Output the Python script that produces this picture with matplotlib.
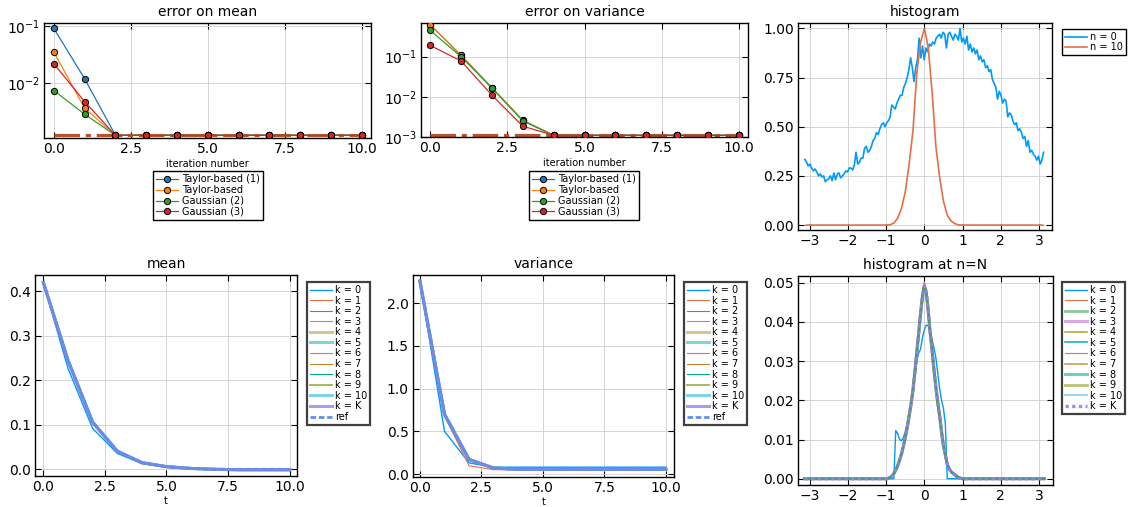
import numpy as np
import matplotlib.pyplot as plt
from matplotlib.ticker import LogLocator, NullLocator, LogFormatterMathtext

plt.rcParams['font.family'] = ['DejaVu Sans']
plt.rcParams['mathtext.fontset'] = 'dejavusans'

# ---- data ----
iters = np.arange(11)

err_mean_taylor1 = [0.090, 0.012] + [1.25e-3] * 9
err_mean_taylor = [0.035, 0.0037] + [1.25e-3] * 9
err_mean_gauss2 = [0.0075, 0.0029] + [1.25e-3] * 9
err_mean_gauss3 = [0.022, 0.0048] + [1.25e-3] * 9
err_mean_tol = 1.25e-3

err_var_taylor1 = [0.62, 0.108, 0.0168, 0.0026] + [1.1e-3] * 7
err_var_taylor = [0.62, 0.108, 0.0168, 0.0026] + [1.1e-3] * 7
err_var_gauss2 = [0.45, 0.100, 0.0165, 0.0025] + [1.1e-3] * 7
err_var_gauss3 = [0.19, 0.078, 0.0110, 0.00186] + [1.1e-3] * 7
err_var_tol = 1.1e-3

method_labels = ['Taylor-based (1)', 'Taylor-based', 'Gaussian (2)', 'Gaussian (3)']
iter_ticks = [0, 2.5, 5, 7.5, 10]
iter_ticklabels = ['0.0', '2.5', '5.0', '7.5', '10.0']

# histogram of the initial state (n = 0), read point by point
hist_n0 = [0.334, 0.32, 0.30, 0.31, 0.29, 0.275, 0.285, 0.27, 0.25, 0.26,
           0.245, 0.25, 0.22, 0.23, 0.235, 0.25, 0.225, 0.265, 0.23, 0.26,
           0.265, 0.24, 0.25, 0.26, 0.275, 0.27, 0.29, 0.29, 0.28, 0.305,
           0.37, 0.31, 0.32, 0.34, 0.34, 0.39, 0.40, 0.37, 0.38, 0.40,
           0.43, 0.44, 0.47, 0.46, 0.49, 0.51, 0.52, 0.50, 0.52, 0.53,
           0.55, 0.61, 0.60, 0.59, 0.62, 0.64, 0.66, 0.66, 0.70, 0.72,
           0.75, 0.79, 0.85, 0.80, 0.73, 0.80, 0.84, 0.95, 0.85,
           0.91, 0.84, 0.90, 0.88, 0.92, 0.91, 0.93, 0.92, 0.95, 0.96,
           0.97, 0.95, 0.98, 0.97, 0.90, 0.97, 0.98, 0.96, 0.94, 0.97,
           0.96, 0.94, 1.00, 0.93, 0.95, 0.92, 0.96, 0.89, 0.92, 0.88,
           0.90, 0.87, 0.89, 0.84, 0.86, 0.83, 0.84, 0.80, 0.81, 0.78,
           0.79, 0.74, 0.72, 0.70, 0.64, 0.68, 0.66, 0.62, 0.64, 0.63,
           0.55, 0.57, 0.56, 0.53, 0.51, 0.52, 0.48, 0.49, 0.47, 0.44,
           0.45, 0.40, 0.43, 0.37, 0.38, 0.36, 0.35, 0.33, 0.35, 0.31,
           0.33, 0.37]
x_n0 = np.linspace(-3.13, 3.12, len(hist_n0))

# histogram at n = 10 (bins of 0.1 from -3.1 to 3.1)
hist_n10 = ([0.0] * 21 +
            [0.0, 0.002, 0.01, 0.035, 0.085, 0.17, 0.31, 0.48, 0.77, 0.93,
             1.00, 0.90, 0.68, 0.40, 0.24, 0.12, 0.05, 0.02, 0.007, 0.001, 0.0] +
            [0.0] * 21)
x_n10 = np.linspace(-3.1, 3.1, len(hist_n10))

# mean / variance over time for the different k
t = np.arange(11)
mean_k0 = [0.42, 0.227, 0.092, 0.036, 0.013, 0.005, 0.001, 0.0, -0.001, -0.001, -0.001]
mean_k1 = [0.42, 0.243, 0.103, 0.039, 0.014, 0.006, 0.002, 0.0, -0.001, -0.001, -0.001]
mean_k = [0.42, 0.245, 0.106, 0.041, 0.015, 0.006, 0.002, 0.0, -0.001, -0.001, -0.001]
mean_ref = [0.42, 0.245, 0.106, 0.041, 0.015, 0.006, 0.002, 0.0, 0.0, 0.0, 0.0]

var_k0 = [2.26, 0.50, 0.13, 0.08, 0.08, 0.08, 0.08, 0.08, 0.08, 0.08, 0.08]
var_k1 = [2.26, 0.68, 0.097, 0.05, 0.052, 0.052, 0.052, 0.052, 0.052, 0.052, 0.052]
var_k = [2.26, 0.70, 0.17, 0.069, 0.055, 0.055, 0.055, 0.055, 0.055, 0.055, 0.055]
var_ref = [2.26, 0.70, 0.17, 0.069, 0.055, 0.055, 0.055, 0.055, 0.055, 0.055, 0.055]

# final histogram (bins of 0.05 between -1 and 1, zero outside)
hN_k0 = [0, 0, 0, 0, 0, 0.0123, 0.0115, 0.0100, 0.0097, 0.0105,
         0.0120, 0.0140, 0.0165, 0.0190, 0.0215, 0.0255, 0.0300, 0.0320, 0.0330, 0.0360,
         0.0380, 0.0392, 0.0390, 0.0378, 0.0355, 0.0335, 0.0310, 0.0270, 0.0230, 0.0200,
         0.0180, 0.0140, 0, 0, 0, 0, 0, 0, 0, 0, 0]
hN_k1 = [0, 0.0001, 0.0003, 0.0007, 0.0013, 0.0022, 0.0033, 0.0047, 0.0063, 0.0082,
         0.0105, 0.0130, 0.0160, 0.0190, 0.0225, 0.0270, 0.0320, 0.0372, 0.0424, 0.0470,
         0.0502, 0.0478, 0.0432, 0.0377, 0.0330, 0.0280, 0.0235, 0.0195, 0.0160, 0.0120,
         0.0085, 0.0060, 0.0037, 0.0025, 0.0018, 0.0014, 0.0010, 0.0006, 0.0003, 0.0001, 0]
hN_k = [0, 0.0001, 0.0003, 0.0007, 0.0013, 0.0022, 0.0033, 0.0047, 0.0063, 0.0082,
        0.0105, 0.0130, 0.0160, 0.0190, 0.0225, 0.0270, 0.0320, 0.0370, 0.0420, 0.0465,
        0.0492, 0.0475, 0.0430, 0.0375, 0.0330, 0.0280, 0.0235, 0.0195, 0.0160, 0.0120,
        0.0085, 0.0060, 0.0037, 0.0025, 0.0018, 0.0014, 0.0010, 0.0006, 0.0003, 0.0001, 0]
x_hN = np.concatenate([[-3.14], np.linspace(-1, 1, 41), [3.14]])

k_labels = ['k = 0', 'k = 1', 'k = 2', 'k = 3', 'k = 4', 'k = 5', 'k = 6',
            'k = 7', 'k = 8', 'k = 9', 'k = 10', 'k = K']

# ---- styles ----
tab = ['#1f77b4', '#ff7f0e', '#2ca02c', '#d62728']
pal = ['#009AFA', '#E36F47', '#3EA44E', '#C371D2', '#AC8E18', '#00AAAE', '#ED5E93',
       '#C68225', '#00A98D', '#8E971D', '#00A9CD', '#9B7FE9', '#618DF6']
# (linewidth, alpha) per k for the mean/variance panels and for the final histogram
lw_mv = [(1.0, 1), (0.8, 1), (0.8, 1), (0.8, 1), (2.2, 0.5), (2.2, 0.5), (0.8, 1),
         (0.8, 1), (0.8, 1), (1.4, 0.7), (2.2, 0.5), (2.2, 0.8)]
lw_h = [(1.0, 1), (0.8, 1), (2.0, 0.6), (2.2, 0.6), (1.2, 0.8), (1.2, 0.9), (0.8, 1),
        (1.2, 0.8), (2.0, 0.6), (2.0, 0.6), (1.2, 0.5), (2.4, 0.9)]

W, H = 1131, 507
fig = plt.figure(figsize=(W / 100, H / 100), dpi=100)


def box(l, t_, r, b):
    return fig.add_axes([l / W, 1 - b / H, (r - l) / W, (b - t_) / H])


def style(ax):
    ax.grid(True, color='#d4d4d4', lw=0.7)
    ax.set_axisbelow(True)
    ax.tick_params(direction='in', top=True, right=True, length=4, width=0.8,
                   labelsize=10, pad=3)
    for s in ax.spines.values():
        s.set_linewidth(1.0)


def legend_below(ax, xc, ytop):
    leg = ax.legend(loc='upper center', bbox_to_anchor=(xc / W, 1 - ytop / H),
                    bbox_transform=fig.transFigure, fontsize=7, fancybox=False,
                    edgecolor='black', framealpha=1, labelspacing=0.08,
                    handlelength=2.3, borderpad=0.35, handletextpad=0.4,
                    borderaxespad=0)
    leg.get_frame().set_linewidth(1.0)


def legend_side(ax, xl, ytop, lw=1.0, ec='black'):
    leg = ax.legend(loc='upper left', bbox_to_anchor=(xl / W, 1 - ytop / H),
                    bbox_transform=fig.transFigure, fontsize=7, fancybox=False,
                    edgecolor=ec, framealpha=1, labelspacing=0.06,
                    handlelength=2.3, borderpad=0.3, handletextpad=0.25,
                    borderaxespad=0)
    leg.get_frame().set_linewidth(lw)


tol_style = dict(color='#b9522c', lw=2.3, linestyle=(0, (8, 1.8, 1.6, 1.8)), zorder=2)
mk = dict(marker='o', ms=4.5, mec='black', mew=0.7, lw=0.9, zorder=3)

# error on mean
ax1 = box(44, 23, 371, 138)
style(ax1)
ax1.plot(iters, np.full(len(iters), err_mean_tol), **tol_style)
for vals, c, lab in zip([err_mean_taylor1, err_mean_taylor, err_mean_gauss2, err_mean_gauss3],
                        tab, method_labels):
    ax1.plot(iters, vals, color=c, mfc=c, label=lab, **mk)
ax1.set_yscale('log')
ax1.set_ylim(1.12e-3, 0.112)
ax1.set_xlim(-0.32, 10.3)
ax1.set_xticks(iter_ticks)
ax1.set_xticklabels(iter_ticklabels)
ax1.yaxis.set_major_locator(LogLocator(base=10))
ax1.yaxis.set_minor_locator(NullLocator())
ax1.yaxis.set_major_formatter(LogFormatterMathtext())
ax1.set_title('error on mean', fontsize=10, pad=5)
ax1.set_xlabel('iteration number', fontsize=7, labelpad=2)
legend_below(ax1, 208, 171)

# error on variance
ax2 = box(421, 23, 748, 137)
style(ax2)
ax2.plot(iters, np.full(len(iters), err_var_tol), **tol_style)
for vals, c, lab in zip([err_var_taylor1, err_var_taylor, err_var_gauss2, err_var_gauss3],
                        tab, method_labels):
    ax2.plot(iters, vals, color=c, mfc=c, label=lab, **mk)
ax2.set_yscale('log')
ax2.set_ylim(1.0e-3, 0.69)
ax2.set_xlim(-0.3, 10.3)
ax2.set_xticks(iter_ticks)
ax2.set_xticklabels(iter_ticklabels)
ax2.yaxis.set_major_locator(LogLocator(base=10))
ax2.yaxis.set_minor_locator(NullLocator())
ax2.yaxis.set_major_formatter(LogFormatterMathtext())
ax2.set_title('error on variance', fontsize=10, pad=5)
ax2.set_xlabel('iteration number', fontsize=7, labelpad=2)
legend_below(ax2, 584, 171)

# histogram
ax3 = box(798, 23, 1052, 230)
style(ax3)
ax3.plot(x_n0, hist_n0, color=pal[0], lw=1.2, label='n = 0')
ax3.plot(x_n10, hist_n10, color=pal[1], lw=1.2, label='n = 10')
ax3.set_xlim(-3.31, 3.34)
ax3.set_ylim(-0.025, 1.027)
ax3.set_xticks([-3, -2, -1, 0, 1, 2, 3])
ax3.set_yticks([0, 0.25, 0.5, 0.75, 1.0])
ax3.set_yticklabels(['0.00', '0.25', '0.50', '0.75', '1.00'])
ax3.set_title('histogram', fontsize=10, pad=5)
legend_side(ax3, 1062, 29)

# mean
ax4 = box(35, 275, 297, 476)
style(ax4)
mean_series = [mean_k0, mean_k1] + [mean_k] * 10
for i, vals in enumerate(mean_series):
    ax4.plot(t, vals, color=pal[i], lw=lw_mv[i][0], alpha=lw_mv[i][1], label=k_labels[i])
ax4.plot(t, mean_ref, color=pal[12], lw=2.0, ls=(0, (2, 1)), label='ref')
ax4.set_xlim(-0.34, 10.3)
ax4.set_ylim(-0.015, 0.437)
ax4.set_xticks(iter_ticks)
ax4.set_xticklabels(iter_ticklabels)
ax4.set_yticks([0, 0.1, 0.2, 0.3, 0.4])
ax4.set_title('mean', fontsize=10, pad=5)
ax4.set_xlabel('t', fontsize=7, labelpad=1)
legend_side(ax4, 307, 282, lw=1.6, ec='#404040')

# variance
ax5 = box(413, 275, 674, 477)
style(ax5)
var_series = [var_k0, var_k1] + [var_k] * 10
for i, vals in enumerate(var_series):
    ax5.plot(t, vals, color=pal[i], lw=lw_mv[i][0], alpha=lw_mv[i][1], label=k_labels[i])
ax5.plot(t, var_ref, color=pal[12], lw=2.0, ls=(0, (2, 1)), label='ref')
ax5.set_xlim(-0.28, 10.33)
ax5.set_ylim(-0.035, 2.33)
ax5.set_xticks(iter_ticks)
ax5.set_xticklabels(iter_ticklabels)
ax5.set_yticks([0, 0.5, 1.0, 1.5, 2.0])
ax5.set_title('variance', fontsize=10, pad=5)
ax5.set_xlabel('t', fontsize=7, labelpad=1)
legend_side(ax5, 684, 282, lw=1.6, ec='#404040')

# histogram at n=N
ax6 = box(798, 276, 1053, 485)
style(ax6)
hN_series = [hN_k0, hN_k1] + [hN_k] * 10
for i, vals in enumerate(hN_series):
    y = np.concatenate([[0], vals, [0]])
    ls = (0, (1, 1)) if i == 11 else '-'
    ax6.plot(x_hN, y, color=pal[i], lw=lw_h[i][0], alpha=lw_h[i][1], ls=ls, label=k_labels[i])
ax6.set_xlim(-3.31, 3.37)
ax6.set_ylim(-0.0016, 0.0517)
ax6.set_xticks([-3, -2, -1, 0, 1, 2, 3])
ax6.set_yticks([0, 0.01, 0.02, 0.03, 0.04, 0.05])
ax6.set_yticklabels(['0.00', '0.01', '0.02', '0.03', '0.04', '0.05'])
ax6.set_title('histogram at n=N', fontsize=10, pad=5)
legend_side(ax6, 1062, 282, lw=1.6, ec='#404040')

fig.savefig('out.png', dpi=100)
